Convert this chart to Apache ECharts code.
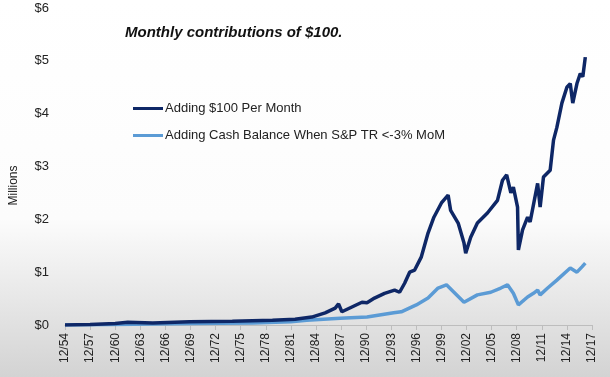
<!DOCTYPE html>
<html>
<head>
<meta charset="utf-8">
<script src="https://cdn.jsdelivr.net/npm/echarts@6/dist/echarts.min.js"></script>
<style>
  html, body { margin: 0; padding: 0; }
  #main { width: 610px; height: 377px; }
</style>
</head>
<body>
<div id="main"></div>
<script>
// x values are years after 12/1954, y values are $ millions
var yTicks = ['$0', '$1', '$2', '$3', '$4', '$5', '$6'];

var darkYears = [0, 3, 6, 7.5, 10.5, 14.9, 20, 22.4, 24.8, 27.5, 29.5, 31.1, 32.3, 32.7, 33.1, 34.3,
  35.5, 36.1, 37, 38.2, 39.4, 40, 40.6, 41.2, 41.8, 42.6, 43.4, 44.1, 45, 45.8, 46.1, 47, 47.7, 47.9,
  48.5, 49.3, 50.5, 51.7, 52.3, 52.8, 53.3, 53.6, 54.1, 54.2, 54.7, 55.3, 55.6, 56.5, 56.8, 57.2, 58,
  58.4, 58.8, 59.4, 60, 60.4, 60.7, 61.2, 61.6, 61.9, 62.2];
var darkValues = [0, 0.01, 0.03, 0.05, 0.04, 0.06, 0.07, 0.08, 0.09, 0.11, 0.15, 0.23, 0.32, 0.40, 0.25, 0.34,
  0.43, 0.42, 0.51, 0.60, 0.66, 0.62, 0.79, 1.00, 1.04, 1.29, 1.74, 2.04, 2.31, 2.46, 2.17, 1.93, 1.55, 1.36,
  1.66, 1.93, 2.12, 2.36, 2.74, 2.84, 2.50, 2.61, 2.23, 1.42, 1.80, 2.04, 1.95, 2.68, 2.23, 2.80, 2.93,
  3.50, 3.74, 4.20, 4.50, 4.57, 4.20, 4.57, 4.76, 4.70, 5.07];

var lightYears = [0, 6, 14.9, 22.4, 27, 28.9, 32.9, 36.1, 39.3, 40.2, 42, 43.4, 44.6, 45.6, 46.5, 47.7,
  49.3, 50.9, 52.1, 52.9, 53.6, 54.2, 55.3, 56, 56.5, 56.8, 57.7, 58.8, 60.4, 61.2, 61.8, 62.2];
var lightValues = [0, 0.01, 0.03, 0.04, 0.06, 0.09, 0.13, 0.15, 0.23, 0.25, 0.38, 0.51, 0.70, 0.76, 0.62, 0.43,
  0.57, 0.62, 0.70, 0.76, 0.60, 0.38, 0.53, 0.60, 0.66, 0.57, 0.70, 0.85, 1.08, 1.00, 1.10, 1.17];

var seriesNames = ['Adding $100 Per Month', 'Adding Cash Balance When S&P TR <-3% MoM'];

function pairs(xs, ys) {
  return xs.map(function (x, i) { return [x, ys[i]]; });
}

var chart = echarts.init(document.getElementById('main'), null, { renderer: 'canvas' });
var font = '"Liberation Sans", "DejaVu Sans", sans-serif';

var option = {
  animation: false,
  backgroundColor: {
    type: 'linear', x: 0, y: 0, x2: 0, y2: 1,
    colorStops: [
      { offset: 0, color: '#ffffff' },
      { offset: 0.58, color: '#fcfcfc' },
      { offset: 1, color: '#d3d3d3' }
    ]
  },
  title: {
    text: 'Monthly contributions of $100.',
    left: 120,
    top: 20,
    textStyle: { fontFamily: font, fontSize: 15, fontWeight: 'bold', fontStyle: 'italic', color: '#111' }
  },
  legend: {
    orient: 'vertical',
    left: 128,
    top: 97,
    itemWidth: 30,
    itemHeight: 3,
    itemGap: 14,
    icon: 'rect',
    textStyle: { fontFamily: font, fontSize: 13, color: '#222', padding: [0, 0, 0, -3] },
    data: seriesNames
  },
  grid: { left: 61, right: 18, top: 8, bottom: 52, containLabel: false },
  xAxis: {
    type: 'value',
    min: 0,
    max: 63,
    interval: 3,
    axisLine: { lineStyle: { color: '#bdbdbd', width: 1 } },
    axisTick: { show: true, length: 5, lineStyle: { color: '#bdbdbd' } },
    splitLine: { show: false },
    axisLabel: {
      rotate: 90,
      margin: 8,
      fontFamily: font,
      fontSize: 12,
      color: '#222',
      formatter: function (v) {
        var yy = (54 + v) % 100;
        return '12/' + (yy < 10 ? '0' + yy : yy);
      }
    }
  },
  yAxis: {
    type: 'value',
    min: 0,
    max: 6,
    interval: 1,
    name: 'Millions',
    nameLocation: 'middle',
    nameGap: 45,
    nameTextStyle: { fontFamily: font, fontSize: 12, color: '#222', padding: [0, 38, 0, 0] },
    axisLine: { show: false },
    axisTick: { show: false },
    splitLine: { show: false },
    axisLabel: {
      margin: 16,
      fontFamily: font,
      fontSize: 13,
      color: '#222',
      formatter: function (v) { return yTicks[v]; }
    }
  },
  series: [
    {
      name: seriesNames[0],
      type: 'line',
      data: pairs(darkYears, darkValues),
      showSymbol: false,
      symbol: 'none',
      lineStyle: { color: '#0e2766', width: 3.5 },
      itemStyle: { color: '#0e2766' },
      z: 3
    },
    {
      name: seriesNames[1],
      type: 'line',
      data: pairs(lightYears, lightValues),
      showSymbol: false,
      symbol: 'none',
      lineStyle: { color: '#5b9bd5', width: 3.5 },
      itemStyle: { color: '#5b9bd5' },
      z: 2
    }
  ]
};
chart.setOption(option);
</script>
</body>
</html>
